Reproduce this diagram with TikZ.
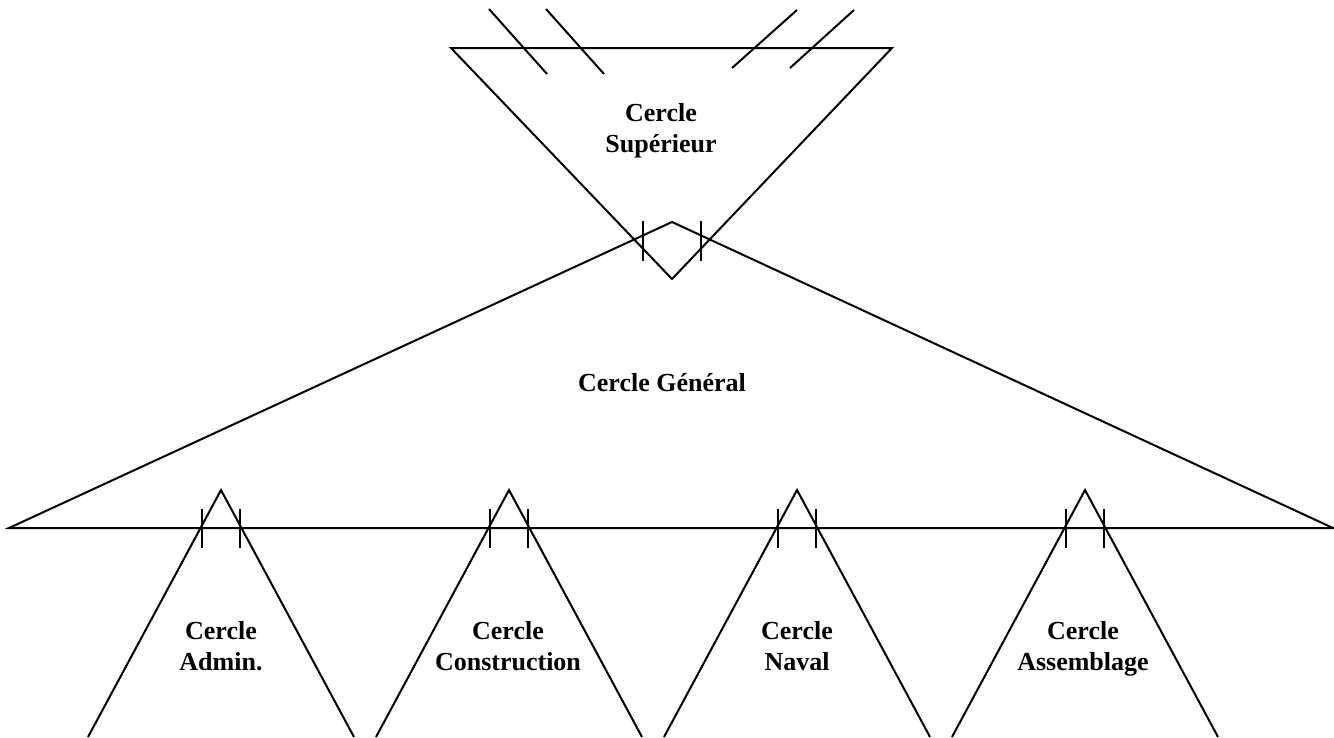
\documentclass[tikz,border=0pt]{standalone}
\usepackage{fontspec}
\setmainfont{Liberation Serif}
\begin{document}
\begin{tikzpicture}[x=1pt,y=-1pt,
  edge/.style={line width=2pt,line join=miter},
  lbl/.style={align=center,inner sep=0pt,font=\fontsize{26}{31}\selectfont\bfseries}]
\useasboundingbox (0,0) rectangle (1334,737);
% upper circle (inverted triangle)
\coordinate (sl) at (451,48);
\coordinate (sr) at (892,48);
\coordinate (sb) at (672,279);
\draw[edge] (sl) -- (sr) -- (sb) -- cycle;
% general circle
\coordinate (ga) at (672,222);
\coordinate (gl) at (9,528);
\coordinate (gr) at (1333,528);
\draw[edge] (gl) -- (ga) -- (gr) -- cycle;
% top strokes
\coordinate (d1a) at (489,9);  \coordinate (d1b) at (547,74);
\coordinate (d2a) at (546,9);  \coordinate (d2b) at (604,74);
\coordinate (d3a) at (797,10); \coordinate (d3b) at (732,68);
\coordinate (d4a) at (854,10); \coordinate (d4b) at (790,68);
\draw[edge] (d1a) -- (d1b);
\draw[edge] (d2a) -- (d2b);
\draw[edge] (d3a) -- (d3b);
\draw[edge] (d4a) -- (d4b);
% ticks at general apex
\coordinate (t1a) at (643,221); \coordinate (t1b) at (643,261);
\coordinate (t2a) at (701,221); \coordinate (t2b) at (701,261);
\draw[edge] (t1a) -- (t1b);
\draw[edge] (t2a) -- (t2b);
% small triangles
\foreach \i/\cx in {1/221,2/509,3/797,4/1085}{
  \coordinate (a\i) at (\cx,490);
  \coordinate (l\i) at (\cx-133,737);
  \coordinate (r\i) at (\cx+133,737);
  \draw[edge] (l\i) -- (a\i) -- (r\i);
  \coordinate (k\i a) at (\cx-19,509);
  \coordinate (k\i b) at (\cx-19,548);
  \coordinate (m\i a) at (\cx+19,509);
  \coordinate (m\i b) at (\cx+19,548);
  \draw[edge] (k\i a) -- (k\i b);
  \draw[edge] (m\i a) -- (m\i b);
}
% labels
\node[lbl,anchor=north] (sup) at (661,103) {Cercle\\Supérieur};
\node[lbl] (gen) at (662,383) {Cercle Général};
\node[lbl,anchor=north] (adm) at (221,621) {Cercle\\Admin.};
\node[lbl,anchor=north] (con) at (508,621) {Cercle\\Construction};
\node[lbl,anchor=north] (nav) at (797,621) {Cercle\\Naval};
\node[lbl,anchor=north] (ass) at (1083,621) {Cercle\\Assemblage};
\end{tikzpicture}
\end{document}
